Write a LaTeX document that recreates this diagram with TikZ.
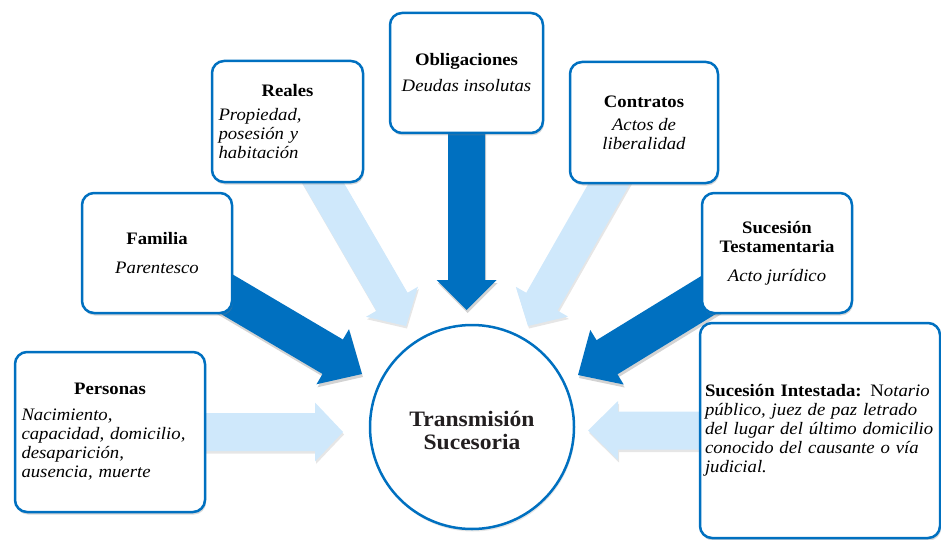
\documentclass[tikz,border=0pt]{standalone}
\usepackage{fontspec}
\setmainfont{Liberation Serif}[FakeStretch=1.07]
\usetikzlibrary{calc,shadows}
\definecolor{dblue}{HTML}{0070C0}
\definecolor{lblue}{HTML}{CFE8FB}
\definecolor{ctext}{HTML}{231F20}
\pgfdeclarelayer{bg}\pgfsetlayers{bg,main}
% #1 start node, #2 tip coordinate, #3 shaft half width, #4 head half width, #5 head length, #6 style
\newcommand\fatarrow[6]{%
  \coordinate (hb) at ($(#2)!#5!(#1)$);
  \fill[#6] ($(#1)!#3!90:(#2)$) -- ($(hb)!#3!90:(#2)$) -- ($(hb)!#4!90:(#2)$) -- (#2)
    -- ($(hb)!#4!-90:(#2)$) -- ($(hb)!#3!-90:(#2)$) -- ($(#1)!#3!-90:(#2)$) -- cycle;
}
\tikzset{
  box/.style={draw=dblue, line width=2.5pt, rounded corners=12pt, fill=white,
    drop shadow={opacity=0.3, shadow xshift=1pt, shadow yshift=-2.5pt},
    inner sep=0pt, font=\fontsize{17.5}{19}\selectfont},
  lsh/.style={drop shadow={opacity=0.2, shadow xshift=1pt, shadow yshift=-2.5pt}},
  dsh/.style={drop shadow={opacity=0.35, shadow xshift=1pt, shadow yshift=-3pt}},
  lightarrow/.style={fill=lblue, lsh},
  darkarrow/.style={fill=dblue, dsh}
}
\begin{document}
\begin{tikzpicture}[x=1pt,y=-1pt]
\useasboundingbox (0,0) rectangle (941,540);

% boxes
\node[box, minimum width=190pt, minimum height=160pt, text width=177pt, align=left] (P) at (110,432)
  {\makebox[177pt]{\bfseries Personas}\\[7pt]\itshape Nacimiento,\\\makebox[177pt][s]{capacidad, domicilio,}\\desaparición,\\ausencia, muerte};
\node[box, minimum width=150pt, minimum height=120pt, align=center] (F) at (157,253)
  {\textbf{Familia}\\[10pt]\textit{Parentesco}};
\node[box, minimum width=151pt, minimum height=121pt, text width=138pt, align=left] (R) at (287.5,121.5)
  {\makebox[138pt]{\bfseries Reales}\\[5pt]\itshape Propiedad,\\\makebox[138pt][s]{posesión y}\\habitación};
\node[box, minimum width=153pt, minimum height=120pt, align=center] (O) at (466.5,73)
  {\textbf{Obligaciones}\\[7pt]\textit{Deudas insolutas}};
\node[box, minimum width=148pt, minimum height=121pt, align=center] (K) at (644,122.5)
  {\textbf{Contratos}\\[4pt]\textit{Actos de}\\\textit{liberalidad}};
\node[box, minimum width=150pt, minimum height=120pt, align=center] (T) at (777,253)
  {\textbf{Sucesión}\\\textbf{Testamentaria}\\[10pt]\textit{Acto jurídico}};
\node[box, minimum width=240pt, minimum height=215pt, text width=230pt, align=left] (I) at (820,430.5)
  {\makebox[230pt][s]{\bfseries Sucesión Intestada: \mdseries N\itshape otario}\\
   \makebox[230pt][s]{\itshape público, juez de paz letrado}\\
   \makebox[230pt][s]{\itshape del lugar del último domicilio}\\
   \makebox[230pt][s]{\itshape conocido del causante o vía}\\
   \textit{judicial.}};

% centre
\node[circle, draw=dblue, line width=2.5pt, fill=white, minimum size=204pt, inner sep=0pt,
  drop shadow={opacity=0.2, shadow xshift=1pt, shadow yshift=-2.5pt},
  align=center, text=ctext, font=\fontsize{22}{24}\selectfont\bfseries] (C) at (472,427)
  {\raisebox{-11pt}[30pt][30pt]{\begin{tabular}{@{}c@{}}Transmisión\\[-1pt]Sucesoria\end{tabular}}};

% arrows
\begin{pgfonlayer}{bg}
  \coordinate (tP) at (343,432);
  \coordinate (tI) at (588,430.5);
  \coordinate (tO) at (466.5,310);
  \coordinate (tR) at (406,326);
  \coordinate (tK) at (528,326);
  \coordinate (tF) at (362,374);
  \coordinate (tT) at (578,375);
  \fatarrow{P}{tP}{19pt}{29.5pt}{28pt}{lightarrow}
  \fatarrow{I}{tI}{19pt}{29.5pt}{30pt}{lightarrow}
  \fatarrow{R}{tR}{18pt}{30pt}{28pt}{lightarrow}
  \fatarrow{K}{tK}{18pt}{30pt}{28pt}{lightarrow}
  \fatarrow{O}{tO}{18.5pt}{30pt}{30pt}{darkarrow}
  \fatarrow{F}{tF}{20pt}{32pt}{34pt}{darkarrow}
  \fatarrow{T}{tT}{20pt}{32pt}{34pt}{darkarrow}
\end{pgfonlayer}
\end{tikzpicture}
\end{document}
